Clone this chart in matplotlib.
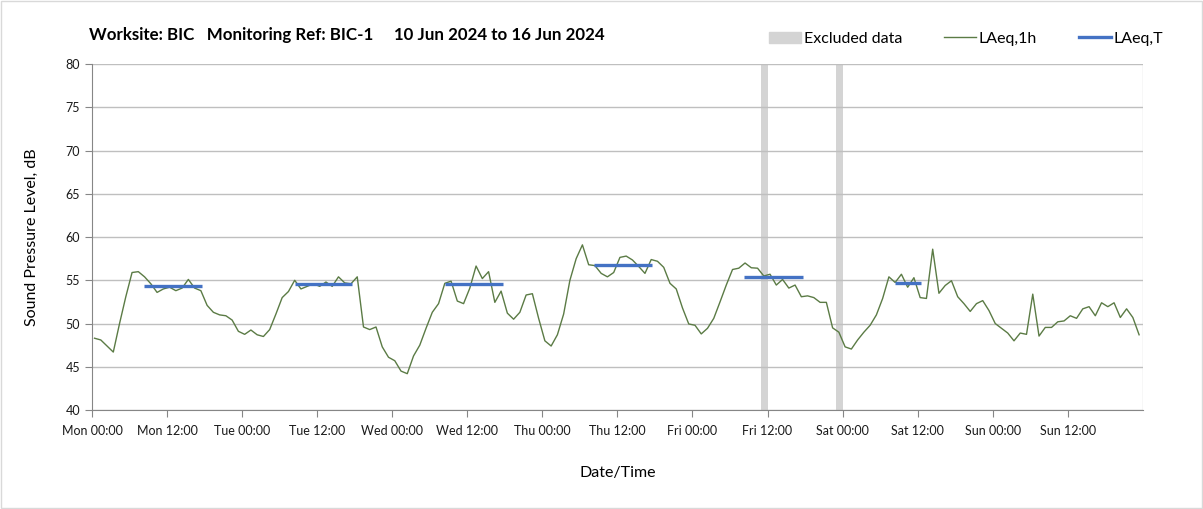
import matplotlib.pyplot as plt
import numpy as np
from matplotlib.patches import Patch, Rectangle
from matplotlib.lines import Line2D

plt.rcParams['font.family'] = ['Lato', 'DejaVu Sans']

# hourly LAeq,1h values, one list per day (00:00 .. 23:00)
mon = [48.3, 48.1, 47.4, 46.7, 50.0, 53.1, 55.9, 56.0, 55.4, 54.6, 53.6, 54.0,
       54.2, 53.8, 54.1, 55.1, 54.1, 53.8, 52.1, 51.3, 51.0, 50.9, 50.4, 49.1]
tue = [48.75, 49.25, 48.7, 48.5, 49.3, 51.1, 53.0, 53.7, 55.0, 54.0, 54.3, 54.6,
       54.3, 54.8, 54.3, 55.4, 54.7, 54.6, 55.4, 49.6, 49.3, 49.6, 47.3, 46.1]
wed = [45.7, 44.5, 44.2, 46.25, 47.5, 49.45, 51.3, 52.3, 54.65, 54.9, 52.6, 52.3,
       54.1, 56.65, 55.2, 56.0, 52.45, 53.75, 51.2, 50.5, 51.3, 53.3, 53.45, 50.6]
thu = [48.0, 47.4, 48.7, 51.1, 55.0, 57.5, 59.1, 56.8, 56.7, 55.8, 55.4, 55.9,
       57.65, 57.8, 57.35, 56.6, 55.8, 57.4, 57.2, 56.5, 54.65, 54.0, 51.8, 49.95]
fri = [49.8, 48.8, 49.45, 50.6, 52.5, 54.45, 56.25, 56.4, 57.0, 56.45, 56.4, 55.5,
       55.7, 54.45, 55.1, 54.1, 54.45, 53.1, 53.2, 53.0, 52.45, 52.45, 49.5, 49.0]
sat = [47.3, 47.05, 48.1, 49.0, 49.8, 51.0, 52.9, 55.4, 54.75, 55.7, 54.2, 55.3,
       53.0, 52.9, 58.6, 53.5, 54.4, 54.95, 53.1, 52.3, 51.4, 52.3, 52.65, 51.5]
sun = [50.0, 49.45, 48.9, 48.0, 48.9, 48.75, 53.4, 48.55, 49.55, 49.55, 50.2, 50.3,
       50.9, 50.6, 51.7, 51.95, 50.9, 52.4, 51.95, 52.4, 50.7, 51.7, 50.7, 48.7]

# LAeq,T periods: start hour, end hour (from Mon 00:00), level
laeq_t_start = [8.3, 32.4, 56.4, 80.3, 104.3, 128.3]
laeq_t_end = [17.6, 41.5, 65.7, 89.5, 113.7, 132.6]
laeq_t_value = [54.3, 54.55, 54.55, 56.75, 55.35, 54.65]

# excluded hours (start, end) from Mon 00:00
excluded = [(107.0, 108.0), (119.0, 120.0)]

day_names = ["Mon", "Tue", "Wed", "Thu", "Fri", "Sat", "Sun"]


def main():
    laeq_1h = np.array(mon + tue + wed + thu + fri + sat + sun)
    hours = np.arange(len(laeq_1h)) + 0.4

    fig = plt.figure(figsize=(12.03, 5.09), dpi=100)
    ax = fig.add_axes([0.0765, 0.1945, 0.8735, 0.6795])

    for s, e in excluded:
        ax.axvspan(s, e, color="#d4d4d4", lw=0, zorder=1)

    ax.plot(hours, laeq_1h, color="#5b7b45", lw=1.0, zorder=3)
    for s, e, v in zip(laeq_t_start, laeq_t_end, laeq_t_value):
        ax.plot([s, e], [v, v], color="#4472c4", lw=2.4, solid_capstyle="butt", zorder=4)

    ax.set_xlim(0, 168)
    ax.set_ylim(40, 80)
    ax.set_yticks(np.arange(40, 81, 5))
    ticks = np.arange(0, 168, 12)
    ax.set_xticks(ticks)
    ax.set_xticklabels([f"{day_names[int(t // 24)]} {int(t % 24):02d}:00" for t in ticks])
    ax.set_xticks(np.arange(0, 169, 24), minor=True)

    ax.grid(axis="y", color="#bfbfbf", lw=1.0, zorder=0)
    ax.grid(axis="x", which="minor", color="#d9d9d9", lw=1.0, zorder=0)
    ax.tick_params(axis="x", which="minor", length=0)
    ax.tick_params(axis="both", which="major", length=5, width=0.8, color="#868686",
                   labelsize=9, labelcolor="#1a1a1a")
    ax.tick_params(axis="x", pad=6)
    for side in ["top", "right"]:
        ax.spines[side].set_visible(False)
    for side in ["left", "bottom"]:
        ax.spines[side].set_color("#868686")

    ax.set_ylabel("Sound Pressure Level, dB", fontsize=11.5, labelpad=19)
    ax.set_xlabel("Date/Time", fontsize=11.5, labelpad=21)

    fig.text(0.074, 0.932, "Worksite: BIC   Monitoring Ref: BIC-1     10 Jun 2024 to 16 Jun 2024",
             fontsize=12.2, fontweight="bold", va="center")

    handles = [Patch(color="#d4d4d4", label="Excluded data"),
               Line2D([], [], color="#5b7b45", lw=1.0, label="LAeq,1h"),
               Line2D([], [], color="#4472c4", lw=2.4, label="LAeq,T")]
    fig.legend(handles=handles, loc="center", bbox_to_anchor=(0.803, 0.924), ncol=3,
               frameon=False, fontsize=11.5, columnspacing=2.6, handlelength=2.0,
               handletextpad=0.2)

    fig.patches.append(Rectangle((0.001, 0.002), 0.998, 0.996, transform=fig.transFigure,
                                 fill=False, edgecolor="#d9d9d9", lw=1))

    fig.savefig("out.png", dpi=100)


if __name__ == "__main__":
    main()
